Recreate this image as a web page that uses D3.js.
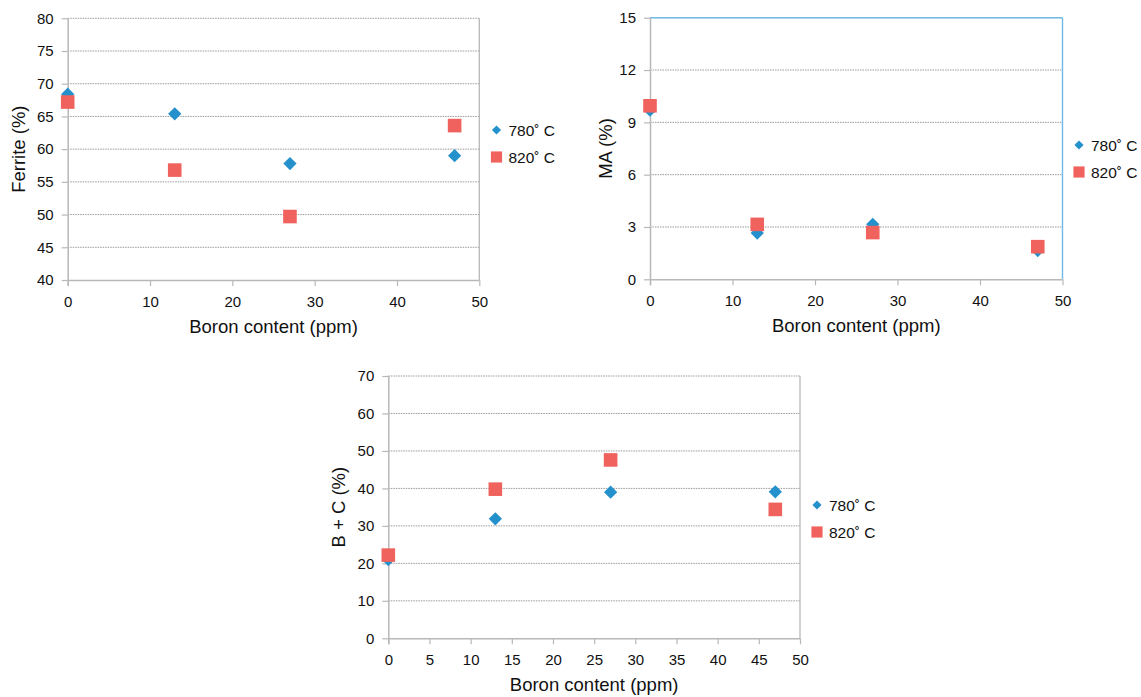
<!DOCTYPE html>
<html>
<head>
<meta charset="utf-8">
<script src="https://cdn.jsdelivr.net/npm/d3@7"></script>
<style>
  body { margin: 0; background: #fff; }
  svg { display: block; font-family: "Liberation Sans", Arial, Helvetica, sans-serif; }
</style>
</head>
<body>
<svg id="chart" width="1141" height="697"></svg>
<script>
// ---- data ----
const boron = [0, 13, 27, 47];
const seriesNames = ["780˚ C", "820˚ C"];

const ferrite780 = [68.4, 65.4, 57.8, 59.0];
const ferrite820 = [67.2, 56.8, 49.7, 63.6];

const ma780 = [9.7, 2.65, 3.15, 1.65];
const ma820 = [9.95, 3.15, 2.68, 1.87];

const bc780 = [21.0, 31.9, 39.0, 39.1];
const bc820 = [22.2, 39.8, 47.6, 34.4];

const ferriteTicks = [40, 45, 50, 55, 60, 65, 70, 75, 80];
const maTicks = [0, 3, 6, 9, 12, 15];
const bcTicks = [0, 10, 20, 30, 40, 50, 60, 70];
const xTicks10 = [0, 10, 20, 30, 40, 50];
const xTicks5 = [0, 5, 10, 15, 20, 25, 30, 35, 40, 45, 50];

const xTitle = "Boron content (ppm)";

// ---- styles ----
const BLUE = "#2490cc";
const RED = "#f0625d";
const AXIS = "#b8b8b8";
const GRID = "#9a9a9a";

const svg = d3.select("#chart");

function drawChart(cfg) {
  const g = svg.append("g");
  const x = d3.scaleLinear().domain([0, 50]).range([cfg.left, cfg.right]);
  const y = d3.scaleLinear().domain(cfg.yDomain).range([cfg.bottom, cfg.top]);

  // gridlines
  g.append("g").selectAll("line").data(cfg.yTicks.filter(t => t !== cfg.yDomain[0]))
    .join("line")
    .attr("x1", cfg.left).attr("x2", cfg.right)
    .attr("y1", d => y(d)).attr("y2", d => y(d))
    .attr("stroke", GRID).attr("stroke-width", 1)
    .attr("stroke-dasharray", "1.5,1");

  // frame (top / right)
  if (cfg.blueFrame) {
    g.append("line").attr("x1", cfg.left).attr("x2", cfg.right)
      .attr("y1", y(cfg.yDomain[1])).attr("y2", y(cfg.yDomain[1]))
      .attr("stroke", "#72b9e3").attr("stroke-width", 1.4);
    g.append("line").attr("x1", cfg.right).attr("x2", cfg.right)
      .attr("y1", cfg.top).attr("y2", cfg.bottom)
      .attr("stroke", "#72b9e3").attr("stroke-width", 1.4);
  } else {
    g.append("line").attr("x1", cfg.right).attr("x2", cfg.right)
      .attr("y1", cfg.top).attr("y2", cfg.bottom)
      .attr("stroke", AXIS).attr("stroke-width", 1.3);
  }

  // axes
  const xAxis = d3.axisBottom(x).tickValues(cfg.xTicks).tickSize(6).tickPadding(10).tickFormat(d3.format("d"));
  const gx = g.append("g").attr("transform", `translate(0,${cfg.bottom})`).call(xAxis);
  const yAxis = d3.axisLeft(y).tickValues(cfg.yTicks).tickSize(6).tickPadding(8).tickFormat(d3.format("d"));
  const gy = g.append("g").attr("transform", `translate(${cfg.left},0)`).call(yAxis);
  [gx, gy].forEach(a => {
    a.select(".domain").attr("stroke", AXIS).attr("stroke-width", 1.5);
    a.selectAll(".tick line").attr("stroke", AXIS).attr("stroke-width", 1.2);
    a.selectAll(".tick text").attr("fill", "#111").style("font-size", "15px");
  });
  gx.select(".domain").attr("d", `M${cfg.left},0.5H${cfg.right}`);
  gy.select(".domain").attr("d", `M0.5,${cfg.top}V${cfg.bottom + 6}`);

  // axis titles
  g.append("text")
    .attr("x", (cfg.left + cfg.right) / 2).attr("y", cfg.bottom + 53)
    .attr("text-anchor", "middle").style("font-size", "18.5px").attr("fill", "#111")
    .text(xTitle);
  g.append("text")
    .attr("transform", `translate(${cfg.yTitleX},${(cfg.top + cfg.bottom) / 2}) rotate(-90)`)
    .attr("text-anchor", "middle").style("font-size", "18.5px").attr("fill", "#111")
    .text(cfg.yTitle);

  // markers
  const diamond = d3.symbol().type(d3.symbolSquare).size(88);
  const square = d3.symbol().type(d3.symbolSquare).size(185);
  g.append("g").selectAll("path").data(cfg.s1).join("path")
    .attr("d", diamond)
    .attr("transform", (d, i) => `translate(${x(boron[i])},${y(d)}) rotate(45)`)
    .attr("fill", BLUE);
  g.append("g").selectAll("path").data(cfg.s2).join("path")
    .attr("d", square)
    .attr("transform", (d, i) => `translate(${x(boron[i])},${y(d)})`)
    .attr("fill", RED);

  // legend
  const lg = g.append("g").attr("transform", `translate(${cfg.legX},${cfg.legY})`);
  lg.append("path").attr("d", d3.symbol().type(d3.symbolSquare).size(42))
    .attr("transform", "translate(0,0) rotate(45)").attr("fill", BLUE);
  lg.append("text").attr("x", 12).attr("y", 5.5).style("font-size", "15.5px").attr("fill", "#111").text(seriesNames[0]);
  lg.append("path").attr("d", d3.symbol().type(d3.symbolSquare).size(125))
    .attr("transform", "translate(0,27)").attr("fill", RED);
  lg.append("text").attr("x", 12).attr("y", 32.5).style("font-size", "15.5px").attr("fill", "#111").text(seriesNames[1]);
}

drawChart({
  left: 67.7, right: 479.3, top: 18.3, bottom: 280,
  yDomain: [40, 80], yTicks: ferriteTicks, xTicks: xTicks10,
  s1: ferrite780, s2: ferrite820,
  yTitle: "Ferrite (%)", yTitleX: 25,
  legX: 496.5, legY: 130, blueFrame: false
});

drawChart({
  left: 650, right: 1062.5, top: 17.7, bottom: 279.3,
  yDomain: [0, 15], yTicks: maTicks, xTicks: xTicks10,
  s1: ma780, s2: ma820,
  yTitle: "MA (%)", yTitleX: 612,
  legX: 1079, legY: 145, blueFrame: true
});

drawChart({
  left: 388.3, right: 800, top: 376, bottom: 638.3,
  yDomain: [0, 70], yTicks: bcTicks, xTicks: xTicks5,
  s1: bc780, s2: bc820,
  yTitle: "B + C (%)", yTitleX: 345,
  legX: 817, legY: 505, blueFrame: false
});
</script>
</body>
</html>
